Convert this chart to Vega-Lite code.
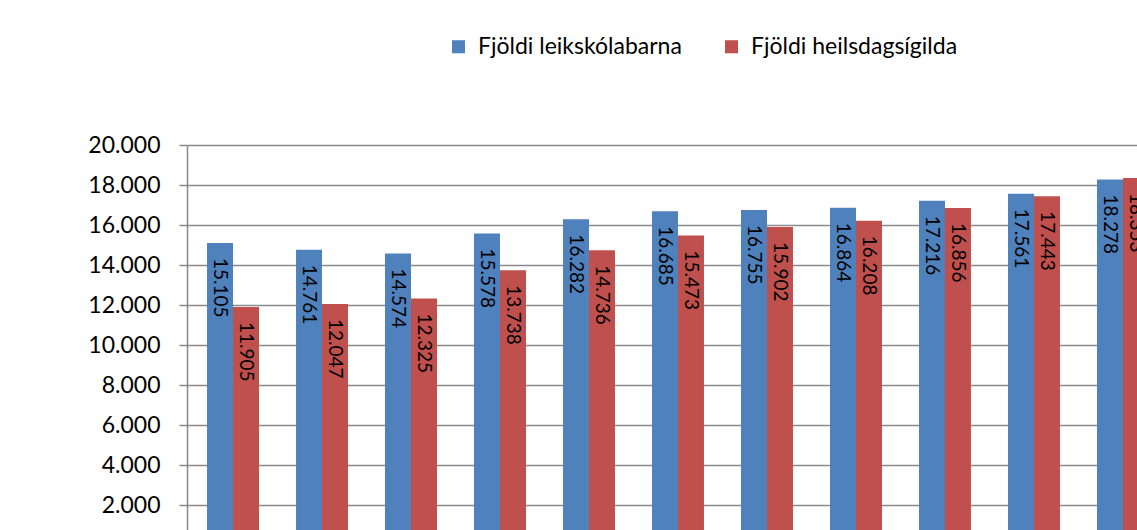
{
  "$schema": "https://vega.github.io/schema/vega-lite/v6.json",
  "autosize": "none",
  "width": 950,
  "height": 385,
  "padding": {"left": 187, "top": 145, "right": 0, "bottom": 0},
  "background": "white",
  "data": {
    "values": [
      {"ar": "1998", "series": "Fjöldi leikskólabarna", "value": 15105},
      {"ar": "1998", "series": "Fjöldi heilsdagsígilda", "value": 11905},
      {"ar": "1999", "series": "Fjöldi leikskólabarna", "value": 14761},
      {"ar": "1999", "series": "Fjöldi heilsdagsígilda", "value": 12047},
      {"ar": "2000", "series": "Fjöldi leikskólabarna", "value": 14574},
      {"ar": "2000", "series": "Fjöldi heilsdagsígilda", "value": 12325},
      {"ar": "2001", "series": "Fjöldi leikskólabarna", "value": 15578},
      {"ar": "2001", "series": "Fjöldi heilsdagsígilda", "value": 13738},
      {"ar": "2002", "series": "Fjöldi leikskólabarna", "value": 16282},
      {"ar": "2002", "series": "Fjöldi heilsdagsígilda", "value": 14736},
      {"ar": "2003", "series": "Fjöldi leikskólabarna", "value": 16685},
      {"ar": "2003", "series": "Fjöldi heilsdagsígilda", "value": 15473},
      {"ar": "2004", "series": "Fjöldi leikskólabarna", "value": 16755},
      {"ar": "2004", "series": "Fjöldi heilsdagsígilda", "value": 15902},
      {"ar": "2005", "series": "Fjöldi leikskólabarna", "value": 16864},
      {"ar": "2005", "series": "Fjöldi heilsdagsígilda", "value": 16208},
      {"ar": "2006", "series": "Fjöldi leikskólabarna", "value": 17216},
      {"ar": "2006", "series": "Fjöldi heilsdagsígilda", "value": 16856},
      {"ar": "2007", "series": "Fjöldi leikskólabarna", "value": 17561},
      {"ar": "2007", "series": "Fjöldi heilsdagsígilda", "value": 17443},
      {"ar": "2008", "series": "Fjöldi leikskólabarna", "value": 18278},
      {"ar": "2008", "series": "Fjöldi heilsdagsígilda", "value": 18353}
    ]
  },
  "encoding": {
    "x": {
      "field": "ar",
      "type": "nominal",
      "sort": null,
      "axis": null,
      "scale": {"range": [0, 982], "paddingInner": 0.416, "paddingOuter": 0.225}
    },
    "xOffset": {
      "field": "series",
      "type": "nominal",
      "sort": ["Fjöldi leikskólabarna", "Fjöldi heilsdagsígilda"]
    },
    "y": {
      "field": "value",
      "type": "quantitative",
      "scale": {"domain": [750, 20000], "zero": false, "nice": false},
      "axis": {
        "title": null,
        "values": [2000, 4000, 6000, 8000, 10000, 12000, 14000, 16000, 18000, 20000],
        "labelExpr": "replace(format(datum.value, ','), ',', '.')",
        "labelFont": "Lato",
        "labelFontSize": 23,
        "labelColor": "black",
        "labelPadding": 19,
        "tickSize": 8,
        "tickColor": "#8a8a8a",
        "tickWidth": 1.5,
        "domainColor": "#8a8a8a",
        "domainWidth": 1.5,
        "gridColor": "#8a8a8a",
        "gridWidth": 1.5,
        "gridOpacity": 1
      }
    }
  },
  "layer": [
    {
      "mark": {"type": "bar", "clip": true},
      "encoding": {
        "color": {
          "field": "series",
          "type": "nominal",
          "sort": ["Fjöldi leikskólabarna", "Fjöldi heilsdagsígilda"],
          "scale": {"range": ["#4F81BD", "#C0504D"]},
          "legend": {
            "title": null,
            "orient": "none",
            "direction": "horizontal",
            "legendX": 260,
            "legendY": -110,
            "symbolType": "square",
            "symbolSize": 170,
            "symbolStrokeWidth": 0,
            "symbolOpacity": 1,
            "labelFont": "Lato",
            "labelFontSize": 23,
            "labelColor": "black",
            "labelOffset": 8,
            "labelLimit": 400,
            "columnPadding": 38
          }
        }
      }
    },
    {
      "mark": {
        "type": "text",
        "clip": true,
        "angle": 90,
        "align": "left",
        "baseline": "middle",
        "dx": 15,
        "font": "Lato",
        "fontSize": 19,
        "color": "black"
      },
      "encoding": {
        "text": {"field": "value", "type": "quantitative", "format": ","}
      }
    }
  ],
  "config": {
    "view": {"stroke": null},
    "locale": {"number": {"decimal": ",", "thousands": ".", "grouping": [3], "currency": ["", " kr."]}}
  }
}
